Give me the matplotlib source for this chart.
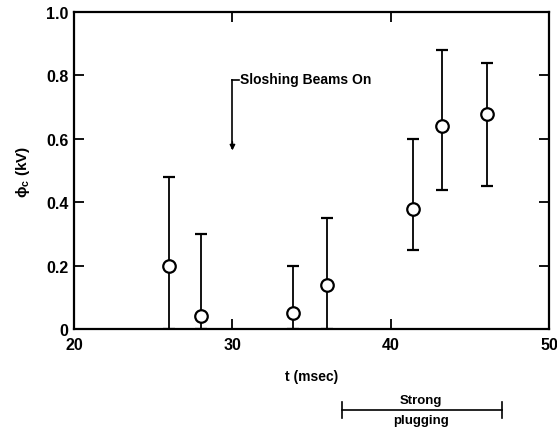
import matplotlib.pyplot as plt
import numpy as np

# valeurs
t_ms = [26.0, 28.0, 33.8, 36.0, 41.4, 43.2, 46.1]
phi_c = [0.20, 0.04, 0.05, 0.14, 0.38, 0.64, 0.68]
err_haut = [0.48, 0.30, 0.20, 0.35, 0.60, 0.88, 0.84]
err_bas = [0.0, 0.0, 0.0, 0.0, 0.25, 0.44, 0.45]

x_ticks = [20, 30, 40, 50]
y_ticks = [0, 0.2, 0.4, 0.6, 0.8, 1.0]
y_labels = ['0', '0.2', '0.4', '0.6', '0.8', '1.0']

plt.rcParams['font.family'] = ['Liberation Sans', 'DejaVu Sans']

fig = plt.figure(figsize=(5.57, 4.35), dpi=100)
ax = fig.add_axes([0.133, 0.241, 0.853, 0.729])

phi = np.array(phi_c)
yerr = [phi - np.array(err_bas), np.array(err_haut) - phi]
ax.errorbar(t_ms, phi_c, yerr=yerr, fmt='o', color='black', ecolor='black',
            elinewidth=1.3, capsize=4, capthick=1.5, markersize=9,
            markerfacecolor='white', markeredgecolor='black', markeredgewidth=1.6,
            zorder=3)

ax.set_xlim(20, 50)
ax.set_ylim(0, 1.0)
ax.set_xticks(x_ticks)
ax.set_yticks(y_ticks)
ax.set_yticklabels(y_labels)
ax.tick_params(direction='in', length=7, width=1.3, top=True, right=True,
               labelsize=11.5)
ax.tick_params(axis='x', pad=6)
ax.tick_params(axis='y', pad=4)
for lab in ax.get_xticklabels() + ax.get_yticklabels():
    lab.set_fontweight('bold')
for sp in ax.spines.values():
    sp.set_linewidth(1.6)

ax.set_xlabel('t (msec)', fontsize=10, fontweight='bold', labelpad=12)
ax.set_ylabel(r'$\mathregular{\phi_c}$ (kV)', fontsize=11, fontweight='bold',
              labelpad=10)

# annotation sloshing beams
ax.plot([30.0, 30.0], [0.785, 0.57], color='black', lw=1.2)
ax.plot([30.0, 30.4], [0.785, 0.785], color='black', lw=1.2)
ax.annotate('', xy=(30.0, 0.555), xytext=(30.0, 0.6),
            arrowprops=dict(arrowstyle='-|>', color='black', lw=1.0,
                            mutation_scale=8))
ax.text(30.5, 0.79, 'Sloshing Beams On', fontsize=10, fontweight='bold',
        va='center', ha='left')

# bracket strong plugging
trans = ax.get_xaxis_transform()
y_br = -0.255
ax.plot([36.9, 47.0], [y_br, y_br], color='black', lw=1.2, transform=trans,
        clip_on=False)
for xb in [36.9, 47.0]:
    ax.plot([xb, xb], [y_br - 0.025, y_br + 0.025], color='black', lw=1.2,
            transform=trans, clip_on=False)
ax.text(41.9, y_br + 0.012, 'Strong', fontsize=9.5, fontweight='bold',
        ha='center', va='bottom', transform=trans)
ax.text(41.9, y_br - 0.014, 'plugging', fontsize=9.5, fontweight='bold',
        ha='center', va='top', transform=trans)

fig.savefig('out.png', dpi=100)
